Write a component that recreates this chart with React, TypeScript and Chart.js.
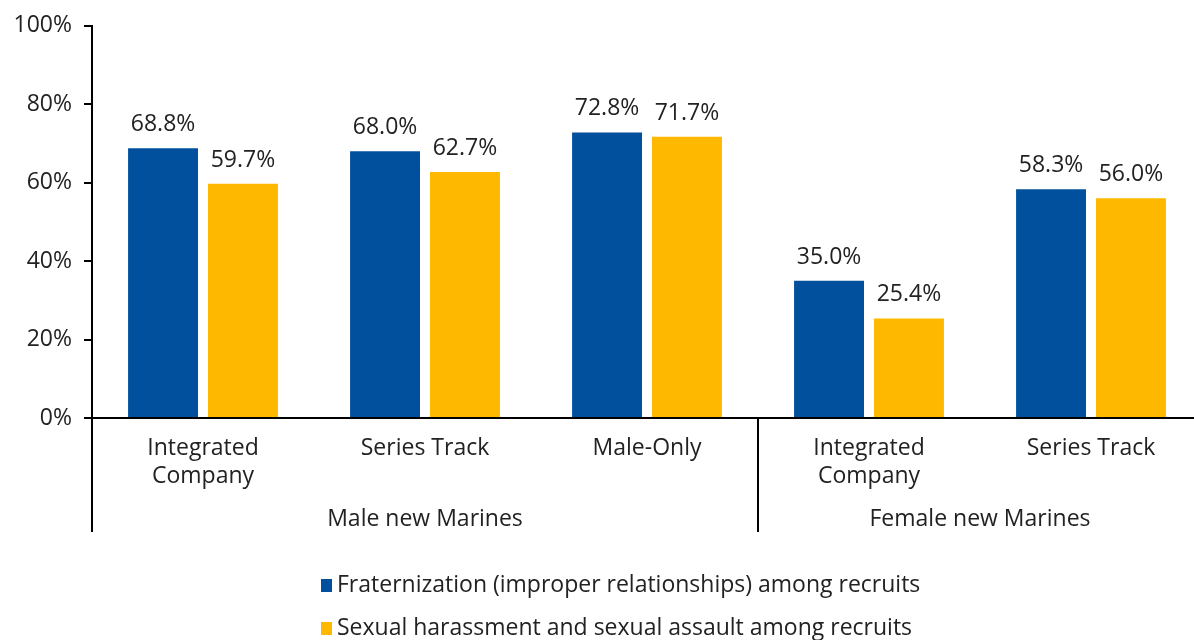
import React, { useEffect, useRef } from "react";
import { Chart, registerables } from "chart.js";

Chart.register(...registerables);

const categories: string[][] = [
  ["Integrated", "Company"],
  ["Series Track"],
  ["Male-Only"],
  ["Integrated", "Company"],
  ["Series Track"],
];
const groups = [
  { label: "Male new Marines", from: 0, to: 2 },
  { label: "Female new Marines", from: 3, to: 4 },
];
const fraternization = [68.8, 68.0, 72.8, 35.0, 58.3];
const harassment = [59.7, 62.7, 71.7, 25.4, 56.0];
const seriesLabels = [
  "Fraternization (improper relationships) among recruits",
  "Sexual harassment and sexual assault among recruits",
];
const yTicks = [0, 20, 40, 60, 80, 100];

const BLUE = "#00509E";
const YELLOW = "#FFB800";
const TEXT = "#222222";
const FONT = "'Open Sans', sans-serif";

const overlay = {
  id: "overlay",
  afterDatasetsDraw(chart: any) {
    const ctx = chart.ctx;
    const { chartArea } = chart;
    const xs = chart.scales.x;
    ctx.save();
    // data labels
    ctx.fillStyle = TEXT;
    ctx.font = `23px ${FONT}`;
    ctx.textAlign = "center";
    ctx.textBaseline = "alphabetic";
    chart.data.datasets.forEach((ds: any, di: number) => {
      const meta = chart.getDatasetMeta(di);
      meta.data.forEach((bar: any, i: number) => {
        ctx.fillText(ds.data[i].toFixed(1) + "%", bar.x, bar.y - 17);
      });
    });
    // separators
    ctx.strokeStyle = "#000";
    ctx.lineWidth = 2;
    const step = xs.getPixelForValue(1) - xs.getPixelForValue(0);
    const bottomY = 532;
    const seps = [chartArea.left];
    groups.forEach((g, gi) => {
      if (gi > 0) seps.push(xs.getPixelForValue(g.from) - step / 2);
    });
    seps.forEach((x) => {
      ctx.beginPath();
      ctx.moveTo(x, chartArea.bottom);
      ctx.lineTo(x, bottomY);
      ctx.stroke();
    });
    // group labels
    ctx.font = `23px ${FONT}`;
    groups.forEach((g) => {
      const x0 = xs.getPixelForValue(g.from) - step / 2;
      const x1 = xs.getPixelForValue(g.to) + step / 2;
      ctx.fillText(g.label, (x0 + x1) / 2, 526);
    });
    // legend
    ctx.textAlign = "left";
    ctx.font = `23px ${FONT}`;
    chart.data.datasets.forEach((ds: any, di: number) => {
      const base = 592 + di * 43;
      ctx.fillStyle = ds.backgroundColor;
      ctx.fillRect(321, base - 13, 11, 13);
      ctx.fillStyle = TEXT;
      ctx.fillText(ds.label, 337, base);
    });
    ctx.restore();
  },
};

export default function App() {
  const ref = useRef<HTMLCanvasElement>(null);
  useEffect(() => {
    document.body.style.overflow = "hidden";
    const chart = new Chart(ref.current!, {
      type: "bar",
      data: {
        labels: categories as any,
        datasets: [
          { label: seriesLabels[0], data: fraternization, backgroundColor: BLUE },
          { label: seriesLabels[1], data: harassment, backgroundColor: YELLOW },
        ],
      },
      plugins: [overlay],
      options: {
        animation: false,
        responsive: true,
        maintainAspectRatio: false,
        layout: { padding: { top: 19, right: 0, left: 0, bottom: 0 } },
        plugins: { legend: { display: false }, tooltip: { enabled: false } },
        datasets: { bar: { barPercentage: 0.875, categoryPercentage: 0.72 } },
        scales: {
          x: {
            grid: { display: false },
            border: { color: "#000", width: 2 },
            ticks: {
              color: TEXT,
              font: { family: FONT, size: 23, lineHeight: 1.217 },
              padding: 8,
              maxRotation: 0,
              autoSkip: false,
            },
            afterFit: (s: any) => {
              s.height = 222;
            },
          },
          y: {
            min: 0,
            max: 100,
            afterBuildTicks: (s: any) => {
              s.ticks = yTicks.map((v) => ({ value: v }));
            },
            grid: { drawOnChartArea: false, drawTicks: true, tickLength: 8, color: "#000", lineWidth: 2 },
            border: { color: "#000", width: 2 },
            ticks: {
              color: TEXT,
              font: { family: FONT, size: 23 },
              padding: 12,
              callback: (v: any) => v + "%",
            },
            afterFit: (s: any) => {
              s.width = 92;
            },
          },
        },
      },
    });
    return () => chart.destroy();
  }, []);
  return (
    <div style={{ position: "absolute", left: 0, top: 0, width: 1202, height: 640 }}>
      <canvas ref={ref} />
    </div>
  );
}
